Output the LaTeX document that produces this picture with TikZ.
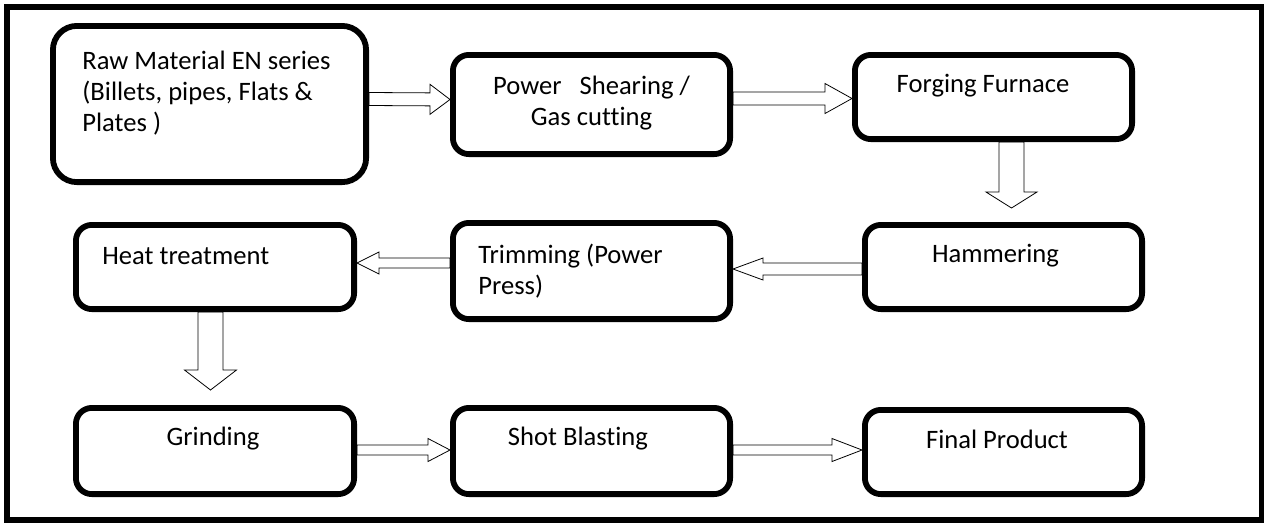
\documentclass[tikz,border=0pt]{standalone}
\usepackage{fontspec}
\setmainfont[Ligatures=NoCommon]{Carlito}
\usetikzlibrary{calc}

\begin{document}
\begin{tikzpicture}[x=0.5pt, y=-0.5pt,
	box/.style={draw, line width=2.9pt, rounded corners=8pt, minimum width=138.6pt, inner sep=0pt},
	txt/.style={font=\fontsize{13.3}{15.5}\selectfont, inner sep=0pt},
	flow/.style n args={3}{draw, line width=0.75pt, to path={let \p1=(\tikztostart), \p2=(\tikztotarget), \p3=($(\p2)!#3!(\p1)$) in
		($(\p1)!#1!-90:(\p2)$) -- ($(\p3)!#1!-90:(\p2)$) -- ($(\p3)!#2!-90:(\p2)$) -- (\p2) -- ($(\p3)!#2!90:(\p2)$) -- ($(\p3)!#1!90:(\p2)$) -- ($(\p1)!#1!90:(\p2)$) -- cycle}}]
	\useasboundingbox (0,0) rectangle (1267,531);
	\draw[line width=2.6pt] (7,7) rectangle (1261.5,520);
	% process boxes
	\node[box, minimum width=156.6pt, minimum height=78.1pt, rounded corners=12pt] (raw) at (209.5,104) {};
	\node[box, minimum height=49.6pt] (power) at (591.5,104.5) {};
	\node[box, minimum height=42.1pt] (forge) at (993.5,97) {};
	\node[box, minimum height=42.1pt] (hammer) at (1003.5,267) {};
	\node[box, minimum height=48.1pt] (trim) at (591.5,271) {};
	\node[box, minimum width=139.1pt, minimum height=42.1pt] (heat) at (215,267) {};
	\node[box, minimum width=139.1pt, minimum height=43.1pt] (grind) at (215,451) {};
	\node[box, minimum height=43.1pt] (shot) at (591.5,451) {};
	\node[box, minimum height=42.1pt] (final) at (1003.5,452) {};
	% labels
	\node[txt, anchor=west, align=left] (rawtxt) at (82,93) {Raw Material EN series\\(Billets, pipes, Flats \&\\Plates )};
	\node[txt, align=center] (powertxt) at (591.5,103) {Power\ \ \ Shearing /\\Gas cutting};
	\node[txt] (forgetxt) at (983,86) {Forging Furnace};
	\node[txt] (hammertxt) at (995.5,256) {Hammering};
	\node[txt, anchor=west, align=left] (trimtxt) at (478,271) {Trimming (Power\\Press)};
	\node[txt, anchor=west] (heattxt) at (102,256) {Heat treatment};
	\node[txt] (grindtxt) at (213,439) {Grinding};
	\node[txt] (shottxt) at (578,439) {Shot Blasting};
	\node[txt] (finaltxt) at (997,439) {Final Product};
	% block arrows
	\draw ([yshift=2.5pt]raw.east) to[flow={3.25pt}{7.5pt}{10pt}] ([yshift=2.5pt]power.west);
	\draw ([yshift=3pt]power.east) to[flow={3.25pt}{7.5pt}{13.5pt}] ([yshift=-0.75pt]forge.west);
	\draw ([xshift=9pt]forge.south) to[flow={6.25pt}{12.75pt}{8pt}] ([xshift=4pt, yshift=7pt]hammer.north);
	\draw ([yshift=-1pt]hammer.west) to[flow={3pt}{5.5pt}{15pt}] ([yshift=1pt]trim.east);
	\draw ([yshift=4pt]trim.west) to[flow={2.5pt}{5.5pt}{11pt}] ([yshift=2pt]heat.east);
	\draw ([xshift=-2.25pt]heat.south) to[flow={6.25pt}{13pt}{10pt}] ([xshift=-2.25pt, yshift=7.5pt]grind.north);
	\draw ([yshift=0.5pt]grind.east) to[flow={2.5pt}{5.75pt}{11pt}] ([yshift=0.5pt]shot.west);
	\draw ([yshift=0.5pt]shot.east) to[flow={2.5pt}{5.75pt}{15pt}] ([yshift=1pt]final.west);
\end{tikzpicture}
\end{document}
